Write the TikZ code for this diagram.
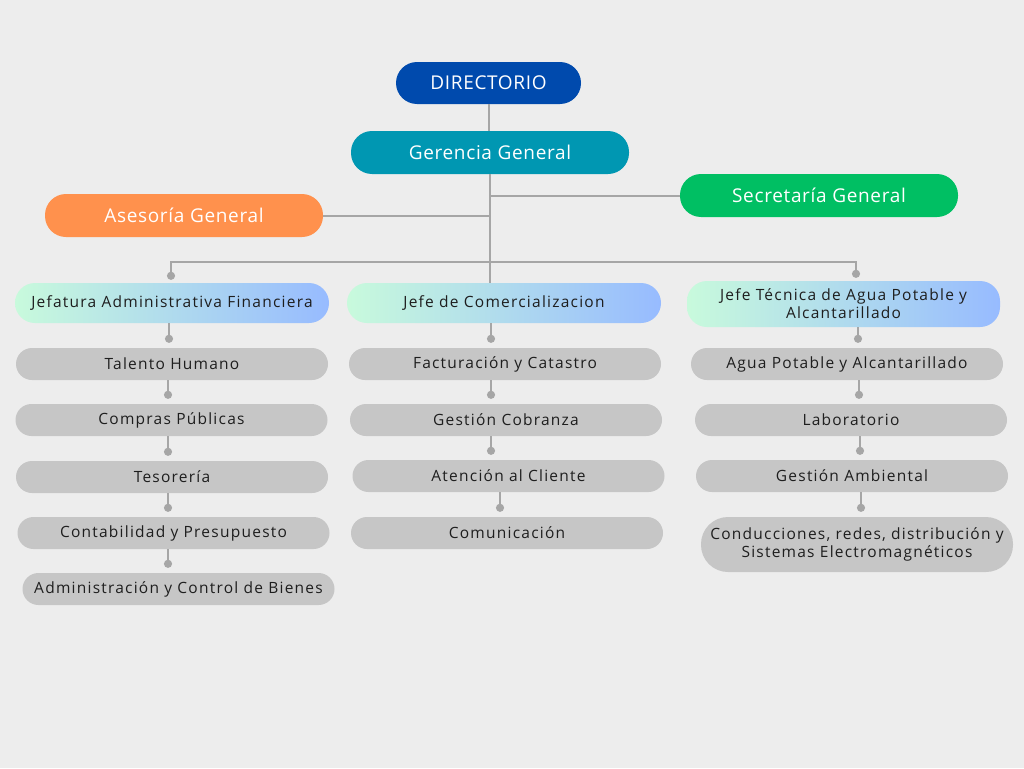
\documentclass[tikz,border=0pt]{standalone}
\usepackage{fontspec}
\setmainfont{Open Sans}
\newfontfamily\bodyfam[LetterSpace=8]{Open Sans}
\newfontfamily\topfam[LetterSpace=3.5]{Open Sans}
\usetikzlibrary{arrows.meta}

\definecolor{bgcol}{HTML}{EDEDED}
\definecolor{dircol}{HTML}{004AAD}
\definecolor{gercol}{HTML}{0097B2}
\definecolor{asecol}{HTML}{FF914D}
\definecolor{seccol}{HTML}{00BF63}
\definecolor{gradA}{HTML}{C8FADC}
\definecolor{gradB}{HTML}{97BBFF}
\definecolor{unitcol}{HTML}{C6C6C6}
\definecolor{linecol}{HTML}{A6A6A6}
\definecolor{txtcol}{HTML}{1E1E1E}

\newcommand{\bodyfont}{\bodyfam\fontsize{15.5}{18}\selectfont}

\tikzset{
  top/.style={rounded corners=21pt, minimum width=278pt, minimum height=43pt,
    inner sep=0pt, text=white, font=\topfam\fontsize{19}{22}\selectfont},
  head/.style={rounded corners=20pt, minimum width=314pt, minimum height=40pt,
    inner sep=0pt, left color=gradA, right color=gradB, text=txtcol,
    font=\bodyfont, align=center},
  unit/.style={rounded corners=16pt, fill=unitcol, minimum width=312pt,
    minimum height=32pt, inner sep=0pt, text=txtcol, font=\bodyfont, align=center},
  link/.style={draw=linecol, line width=2pt},
  feed/.style={link, -{Circle[length=8pt,width=8pt]}, shorten >=5pt},
  drop/.style={feed, shorten >=3pt}
}

\begin{document}
\begin{tikzpicture}[x=1pt, y=-1pt]
    % background and page size
    \fill[bgcol] (0,0) rectangle (1024,768);

    % top levels
    \node[top, fill=dircol, minimum width=185pt, minimum height=42pt] (dir) at (488.5,83) {DIRECTORIO};
    \node[top, fill=gercol] (ger) at (490,152.5) {Gerencia General};
    \node[top, fill=asecol] (ase) at (184,215.5) {Asesoría General};
    \node[top, fill=seccol] (sec) at (819,195.5) {Secretaría General};

    % heads of the three areas
    \node[head] (jaf) at (172,303) {Jefatura Administrativa Financiera};
    \node[head] (jc) at (504,303) {Jefe de Comercializacion};
    \node[head, minimum height=46pt, minimum width=313pt] (jt) at (843.5,304)
        {Jefe Técnica de Agua Potable y\\Alcantarillado};

    % administrative units
    \node[unit] (th) at (172,364) {Talento Humano};
    \node[unit] (cp) at (171.5,420) {Compras Públicas};
    \node[unit] (tes) at (172,477) {Tesorería};
    \node[unit] (cyp) at (173.5,533) {Contabilidad y Presupuesto};
    \node[unit] (acb) at (178.5,589) {Administración y Control de Bienes};

    % commercial units
    \node[unit] (fc) at (505,364) {Facturación y Catastro};
    \node[unit] (gc) at (506,420) {Gestión Cobranza};
    \node[unit] (ac) at (508.5,476) {Atención al Cliente};
    \node[unit] (com) at (507,533) {Comunicación};

    % technical units
    \node[unit] (ap) at (847,364) {Agua Potable y Alcantarillado};
    \node[unit] (lab) at (851,420) {Laboratorio};
    \node[unit] (ga) at (852,476) {Gestión Ambiental};
    \node[unit, minimum height=55pt, rounded corners=27pt] (cond) at (857,544.5)
        {Conducciones, redes, distribución y\\Sistemas Electromagnéticos};

    % trunk
    \coordinate (bus) at (490,262);
    \draw[link] (dir.south) -- (dir.south |- ger.north);
    \draw[link] (ger.south) -- (ger.south |- jc.north);
    \draw[link] (ger.south |- sec.west) -- (sec.west);
    \draw[link] (ase.east) -- (ase.east -| ger.south);
    \draw[drop] (bus) -| ([xshift=-1pt]jaf.north);
    \draw[drop] (bus) -| ([xshift=12.5pt]jt.north);

    % column links
    \draw[feed] ([xshift=-3pt]jaf.south) -- ([xshift=-3pt]jaf.south |- th.north);
    \draw[feed] ([xshift=-4pt]th.south) -- ([xshift=-4pt]th.south |- cp.north);
    \draw[feed] ([xshift=-3.5pt]cp.south) -- ([xshift=-3.5pt]cp.south |- tes.north);
    \draw[feed] ([xshift=-4pt]tes.south) -- ([xshift=-4pt]tes.south |- cyp.north);
    \draw[feed] ([xshift=-5.5pt]cyp.south) -- ([xshift=-5.5pt]cyp.south |- acb.north);

    \draw[feed] ([xshift=-13pt]jc.south) -- ([xshift=-13pt]jc.south |- fc.north);
    \draw[feed] ([xshift=-14pt]fc.south) -- ([xshift=-14pt]fc.south |- gc.north);
    \draw[feed] ([xshift=-15pt]gc.south) -- ([xshift=-15pt]gc.south |- ac.north);
    \draw[feed] ([xshift=-8.5pt]ac.south) -- ([xshift=-8.5pt]ac.south |- com.north);

    \draw[feed] ([xshift=14.5pt]jt.south) -- ([xshift=14.5pt]jt.south |- ap.north);
    \draw[feed] ([xshift=12pt]ap.south) -- ([xshift=12pt]ap.south |- lab.north);
    \draw[feed] ([xshift=9pt]lab.south) -- ([xshift=9pt]lab.south |- ga.north);
    \draw[feed] ([xshift=9pt]ga.south) -- ([xshift=9pt]ga.south |- cond.north);
\end{tikzpicture}
\end{document}
